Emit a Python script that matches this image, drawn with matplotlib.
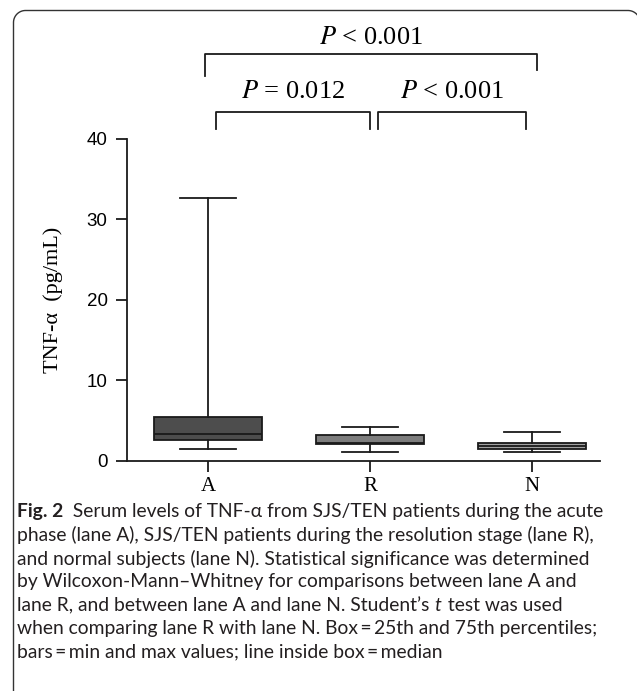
import numpy as np
import matplotlib.pyplot as plt
from matplotlib.lines import Line2D
from matplotlib.transforms import IdentityTransform

# === Data ===
groups = ['A', 'R', 'N']
mins = [1.49, 1.11, 1.04]
q1 = [2.61, 2.08, 1.46]
medians = [3.28, 2.2, 1.83]
q3 = [5.43, 3.2, 2.16]
maxs = [32.6, 4.15, 3.6]
box_colors = ['#4d4d4d', '#7d7d7d', '#a3a3a3']

y_ticks = [0, 10, 20, 30, 40]

# significance brackets: (x_left, x_right, y_line, y_left_leg, y_right_leg, label, y_label)
brackets = [
    (0.98, 3.03, 50.6, 47.8, 48.6, '$P$ < 0.001', 52.6),
    (1.05, 2.00, 43.4, 41.2, 41.2, '$P$ = 0.012', 45.8),
    (2.05, 2.96, 43.4, 41.2, 41.2, '$P$ < 0.001', 45.8),
]

caption = [
    [('Fig. 2', 'bold'), ('  Serum levels of TNF-\u03b1 from SJS/TEN patients during the acute', 'normal')],
    [('phase (lane A), SJS/TEN patients during the resolution stage (lane R),', 'normal')],
    [('and normal subjects (lane N). Statistical significance was determined', 'normal')],
    [('by Wilcoxon-Mann\u2013Whitney for comparisons between lane A and', 'normal')],
    [('lane R, and between lane A and lane N. Student\u2019s ', 'normal'), ('t', 'italic'), (' test was used', 'normal')],
    [('when comparing lane R with lane N. Box\u2009=\u200925th and 75th percentiles;', 'normal')],
    [('bars\u2009=\u2009min and max values; line inside box\u2009=\u2009median', 'normal')],
]

fig = plt.figure(figsize=(6.37, 6.91), dpi=100)
ax = fig.add_axes([0.1994, 0.3333, 0.7426, 0.4656])

stats = []
for i, g in enumerate(groups):
    stats.append({'label': g, 'whislo': mins[i], 'q1': q1[i], 'med': medians[i],
                  'q3': q3[i], 'whishi': maxs[i], 'fliers': []})

bp = ax.bxp(stats, positions=[1, 2, 3], widths=0.67, patch_artist=True, showfliers=False,
            boxprops=dict(linewidth=1.3, edgecolor='#1a1a1a'),
            medianprops=dict(color='#1a1a1a', linewidth=1.3),
            whiskerprops=dict(color='#1a1a1a', linewidth=1.3),
            capprops=dict(color='#1a1a1a', linewidth=1.3), capwidths=0.34)
for patch, c in zip(bp['boxes'], box_colors):
    patch.set_facecolor(c)

ax.set_xlim(0.5, 3.42)
ax.set_ylim(0, 40)
ax.set_yticks(y_ticks)
ax.spines['top'].set_visible(False)
ax.spines['right'].set_visible(False)
for s in ['left', 'bottom']:
    ax.spines[s].set_linewidth(1.3)
    ax.spines[s].set_color('#1a1a1a')
ax.tick_params(axis='both', direction='out', length=8, width=1.3, color='#1a1a1a')
ax.tick_params(axis='y', labelsize=13.5, labelfontfamily='Liberation Sans', pad=6)
ax.tick_params(axis='x', labelsize=15, labelfontfamily='Liberation Serif', pad=4)
ax.set_ylabel('TNF-\u03b1  (pg/mL)', family='Liberation Serif', fontsize=16, labelpad=17)

# significance brackets above the plot
for xl, xr, yl, yll, ylr, txt, yt in brackets:
    ax.plot([xl, xl, xr, xr], [yll, yl, yl, ylr], color='#1a1a1a', lw=1.3, clip_on=False)
    ax.text((xl + xr) / 2, yt, txt, ha='center', va='center', fontsize=19,
            family='Liberation Serif', math_fontfamily='stix', clip_on=False)

# caption, drawn piece by piece so bold/italic can be mixed
renderer = fig.canvas.get_renderer()
x0 = 17
y_first = 691 - 512
line_gap = 23.3
for k, pieces in enumerate(caption):
    x = x0
    y = y_first - k * line_gap
    for txt, style in pieces:
        kw = dict(family=['Lato', 'DejaVu Sans'], fontsize=13.9, color='#231f20',
                  ha='left', va='center', transform=IdentityTransform())
        if style == 'bold':
            kw['fontweight'] = 'bold'
        if style == 'italic':
            kw['fontstyle'] = 'italic'
        t = fig.text(x, y, txt, **kw)
        bb = t.get_window_extent(renderer)
        x = bb.x1 + (1.5 if style == 'italic' else 0)

# page frame: left side, rounded top corners, right side cut off by the image edge
r = 12
left, right, top = 13.5, 637 + 3, 691 - 10.5
a1 = np.linspace(np.pi, np.pi / 2, 20)
a2 = np.linspace(np.pi / 2, 0, 20)
fx = np.concatenate([[left], left + r + r * np.cos(a1), right - r + r * np.cos(a2), [right]])
fy = np.concatenate([[-5], top - r + r * np.sin(a1), top - r + r * np.sin(a2), [top - 30]])
fig.lines.append(Line2D(fx, fy, transform=IdentityTransform(), color='#333333', lw=1.0))

plt.savefig('out.png', dpi=100)
